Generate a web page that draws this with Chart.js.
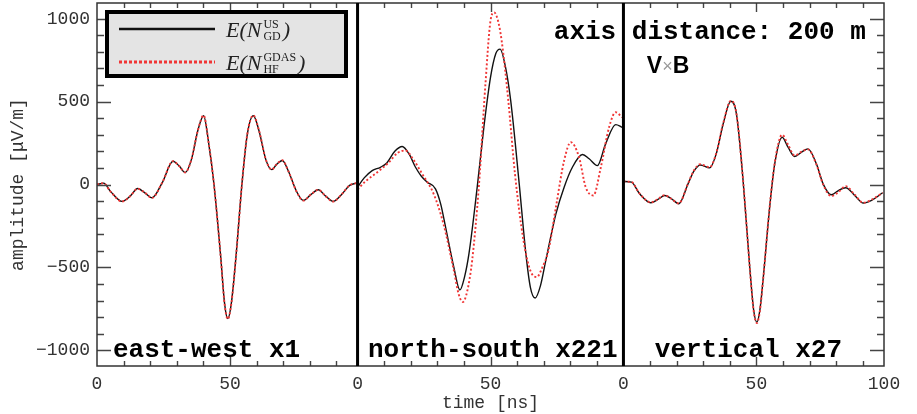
<!DOCTYPE html>
<html>
<head>
<meta charset="utf-8">
<script src="https://cdn.jsdelivr.net/npm/chart.js@4/dist/chart.umd.min.js"></script>
<style>
  body { margin: 0; background: #fff; }
</style>
</head>
<body>
<canvas id="pulse" width="917" height="414"></canvas>
<script>
// panels: east-west, north-south, vertical (each one starts at its own 0 ns)
const panelNames = ['east-west x1', 'north-south x221', 'vertical x27'];
const panelStart = [0, 98, 198];
const xMax = 296;

// tick labels
const xTickValues = [0, 50, 98, 148, 198, 248, 296];
const xTickLabels = ['0', '50', '0', '50', '0', '50', '100'];
const yTickValues = [-1000, -500, 0, 500, 1000];
const yTickLabels = ['−1000', '−500', '0', '500', '1000'];

// east-west
const ewTime = [0, 2.5, 5, 9.4, 12.5, 15.3, 18, 20.7, 24.5, 28.6, 31, 33.2, 35.5, 38, 40.1, 42, 44, 46.5, 48, 49.2,
  50.5, 52.3, 54.5, 56.5, 58.8, 61, 63.5, 65.7, 67.5, 69.7, 72, 75, 77.6, 80.5, 83.2, 86, 88.8, 92, 95, 97.5];
const ewGD = [0, 8, -40, -102, -70, -24, -50, -80, 10, 140, 110, 72, 150, 330, 415, 250, 0, -430, -720, -809,
  -720, -430, 0, 300, 415, 320, 150, 90, 120, 145, 80, -40, -96, -60, -32, -70, -102, -60, -5, 8];
const ewHF = [0, 8, -41, -103, -70, -25, -50, -81, 10, 141, 110, 73, 151, 331, 417, 251, 0, -432, -722, -812,
  -722, -431, 0, 301, 417, 321, 151, 90, 121, 146, 80, -41, -97, -60, -32, -71, -103, -60, -5, 8];

// north-south
const nsTimeGD = [0, 2.5, 5.5, 8.6, 11, 14, 16.8, 19.5, 21.8, 24, 26.2, 29.3, 31.3, 33.1, 36.2, 38.5, 40.2, 41.9, 45,
  47.5, 50, 52, 53.6, 55.5, 57.6, 60.8, 63.3, 65, 66.8, 68.8, 70.8, 74.6, 77.7, 80.8, 84.6, 87.1, 90.2, 93.3, 97.1, 99.5];
const nsGD = [-16, 40, 84, 104, 130, 200, 229, 180, 104, 50, 14, -26, -120, -257, -498, -636, -560, -417, -16,
  345, 646, 790, 817, 720, 506, 4, -417, -620, -685, -610, -458, -177, -16, 104, 181, 155, 114, 245, 361, 345];
const nsTimeHF = [0, 3, 6.8, 11.8, 15, 18, 21, 24.3, 28.6, 32.3, 36.2, 38, 39.6, 41.3, 43.1, 45.6, 48.1, 50, 51.4,
  52.8, 54.2, 56.7, 59.2, 62.4, 65, 67.4, 69.5, 71.8, 74.6, 77.7, 80.2, 83.3, 85.8, 88.7, 91.5, 94.6, 97.1, 99.5];
const nsHF = [-30, 20, 66, 134, 190, 205, 150, 64, -56, -237, -518, -660, -709, -640, -458, -16, 607, 988, 1038,
  990, 867, 506, 64, -337, -520, -558, -500, -398, -137, 145, 255, 165, -16, -66, 104, 345, 436, 405];

// vertical
const vtTime = [0, 3, 6.1, 10.3, 13, 15.5, 18, 20.8, 24.3, 26.5, 28.9, 32.4, 34.9, 37.5, 40.4, 42.5, 45, 47.5, 49,
  50.2, 51.3, 52.5, 55, 56.9, 59.7, 61.9, 64.4, 67, 69.4, 72.6, 75.1, 78.2, 81, 83.6, 87, 90.2, 93.3, 97.5];
const vtGD = [18, 14, -56, -110, -90, -66, -85, -116, 4, 80, 118, 100, 185, 365, 502, 426, 24, -498, -760,
  -830, -760, -578, -137, 124, 285, 225, 169, 195, 215, 124, 4, -62, -35, -20, -66, -112, -96, -50];
const vtHF = [18, 15, -55, -108, -88, -64, -86, -114, 6, 84, 122, 104, 188, 368, 505, 428, 26, -500, -765,
  -836, -765, -580, -134, 130, 300, 240, 175, 198, 212, 120, 0, -70, -44, -10, -62, -110, -92, -50];

const GD_COLOR = '#111111';
const HF_COLOR = '#f03535';
const monoFont = '"Liberation Mono", "DejaVu Sans Mono", monospace';

function points(start, times, values) {
  return times.map((t, i) => ({ x: start + t, y: values[i] }));
}

function gdSet(data) {
  return { data, borderColor: GD_COLOR, borderWidth: 1.4, order: 2 };
}
function hfSet(data) {
  return { data, borderColor: HF_COLOR, borderWidth: 1.9, borderDash: [2, 2.2], order: 1 };
}

const datasets = [
  gdSet(points(panelStart[0], ewTime, ewGD)),
  hfSet(points(panelStart[0], ewTime, ewHF)),
  gdSet(points(panelStart[1], nsTimeGD, nsGD)),
  hfSet(points(panelStart[1], nsTimeHF, nsHF)),
  gdSet(points(panelStart[2], vtTime, vtGD)),
  hfSet(points(panelStart[2], vtTime, vtHF))
];

// frame, inward ticks, separators, panel labels and the legend box
const decorations = {
  id: 'decorations',
  afterDatasetsDraw(chart) {
    const { ctx, chartArea: a, scales: { x, y } } = chart;
    ctx.save();

    // ticks
    ctx.strokeStyle = '#444';
    ctx.lineWidth = 1.4;
    ctx.beginPath();
    for (let v = -1000; v <= 1000; v += 100) {
      const py = Math.round(y.getPixelForValue(v)) + 0.5;
      const len = v % 500 === 0 ? 14 : 7;
      ctx.moveTo(a.left, py); ctx.lineTo(a.left + len, py);
      ctx.moveTo(a.right, py); ctx.lineTo(a.right - len, py);
    }
    panelStart.forEach(s => {
      for (let t = 10; t < 100; t += 10) {
        const v = s + t;
        if (v >= xMax) continue;
        const px = Math.round(x.getPixelForValue(v)) + 0.5;
        const len = t === 50 ? 9 : 5;
        ctx.moveTo(px, a.bottom); ctx.lineTo(px, a.bottom - len);
        ctx.moveTo(px, a.top); ctx.lineTo(px, a.top + len);
      }
    });
    ctx.stroke();

    // outer frame
    ctx.strokeStyle = '#333';
    ctx.lineWidth = 1.5;
    ctx.strokeRect(a.left, a.top, a.right - a.left, a.bottom - a.top);

    // panel separators
    ctx.strokeStyle = '#000';
    ctx.lineWidth = 3;
    ctx.beginPath();
    panelStart.slice(1).forEach(s => {
      const px = x.getPixelForValue(s);
      ctx.moveTo(px, a.top); ctx.lineTo(px, a.bottom);
    });
    ctx.stroke();

    // panel names
    ctx.fillStyle = '#000';
    ctx.font = 'bold 26px ' + monoFont;
    ctx.textBaseline = 'alphabetic';
    const nameOffsets = [6, 3.9, 11.8];
    panelNames.forEach((n, i) => {
      ctx.fillText(n, x.getPixelForValue(panelStart[i] + nameOffsets[i]), y.getPixelForValue(-1042));
    });
    ctx.fillText('axis distance: 200 m', x.getPixelForValue(panelStart[1] + 73.8), y.getPixelForValue(880));

    // VxB
    let vx = x.getPixelForValue(panelStart[2] + 8.8);
    const vy = y.getPixelForValue(675);
    ctx.font = 'bold 23px "Liberation Sans", Arial, sans-serif';
    ctx.fillText('V', vx, vy);
    vx += ctx.measureText('V').width;
    ctx.fillStyle = '#999';
    ctx.font = '18px "Liberation Sans", Arial, sans-serif';
    ctx.fillText('×', vx, vy - 1);
    vx += ctx.measureText('×').width;
    ctx.fillStyle = '#000';
    ctx.font = 'bold 23px "Liberation Sans", Arial, sans-serif';
    ctx.fillText('B', vx, vy);

    // legend
    const lx = a.left + 10, ly = a.top + 9, lw = 239, lh = 64;
    ctx.fillStyle = '#e4e4e4';
    ctx.fillRect(lx, ly, lw, lh);
    ctx.strokeStyle = '#000';
    ctx.lineWidth = 4;
    ctx.strokeRect(lx, ly, lw, lh);

    const entries = [
      { color: GD_COLOR, dash: [], width: 2.6, sup: 'US', sub: 'GD', row: 17 },
      { color: HF_COLOR, dash: [3, 2], width: 3, sup: 'GDAS', sub: 'HF', row: 50 }
    ];
    entries.forEach(e => {
      const ry = ly + e.row;
      ctx.strokeStyle = e.color;
      ctx.lineWidth = e.width;
      ctx.setLineDash(e.dash);
      ctx.beginPath();
      ctx.moveTo(lx + 12, ry); ctx.lineTo(lx + 108, ry);
      ctx.stroke();
      ctx.setLineDash([]);

      const base = ry + 8;
      let tx = lx + 119;
      ctx.fillStyle = '#222';
      ctx.font = 'italic 22px "Liberation Serif", "DejaVu Serif", serif';
      ctx.fillText('E(N', tx, base);
      tx += ctx.measureText('E(N').width + 2;
      ctx.font = '12px "Liberation Serif", "DejaVu Serif", serif';
      ctx.fillText(e.sup, tx, base - 9);
      ctx.fillText(e.sub, tx, base + 3);
      tx += Math.max(ctx.measureText(e.sup).width, ctx.measureText(e.sub).width) + 2;
      ctx.font = 'italic 22px "Liberation Serif", "DejaVu Serif", serif';
      ctx.fillText(')', tx, base);
    });

    ctx.restore();
  }
};

new Chart(document.getElementById('pulse'), {
  type: 'line',
  data: { datasets },
  plugins: [decorations],
  options: {
    responsive: false,
    animation: false,
    layout: { padding: { top: 3, right: 33, left: 0, bottom: 0 } },
    elements: {
      point: { radius: 0 },
      line: { cubicInterpolationMode: 'monotone', fill: false }
    },
    plugins: {
      legend: { display: false },
      tooltip: { enabled: false }
    },
    scales: {
      x: {
        type: 'linear',
        min: 0,
        max: xMax,
        grid: { display: false, drawTicks: false },
        border: { display: false },
        afterBuildTicks: s => { s.ticks = xTickValues.map(v => ({ value: v })); },
        afterFit: s => { s.height = 48; s.paddingLeft = 0; s.paddingRight = 0; },
        ticks: {
          autoSkip: false,
          maxRotation: 0,
          padding: 7,
          color: '#333',
          font: { family: monoFont, size: 18 },
          callback: (v, i) => xTickLabels[i]
        },
        title: {
          display: true,
          text: 'time [ns]',
          color: '#333',
          font: { family: monoFont, size: 18 },
          padding: { top: 0, bottom: 0 }
        }
      },
      y: {
        min: -1095,
        max: 1095,
        grid: { display: false, drawTicks: false },
        border: { display: false },
        afterBuildTicks: s => { s.ticks = yTickValues.map(v => ({ value: v })); },
        afterFit: s => { s.width = 97; s.paddingTop = 0; s.paddingBottom = 0; },
        ticks: {
          padding: 7,
          color: '#333',
          font: { family: monoFont, size: 18 },
          callback: (v, i) => yTickLabels[i]
        },
        title: {
          display: true,
          text: 'amplitude [μV/m]',
          color: '#333',
          font: { family: monoFont, size: 18 },
          padding: { top: 7, bottom: 0 }
        }
      }
    }
  }
});
</script>
</body>
</html>
